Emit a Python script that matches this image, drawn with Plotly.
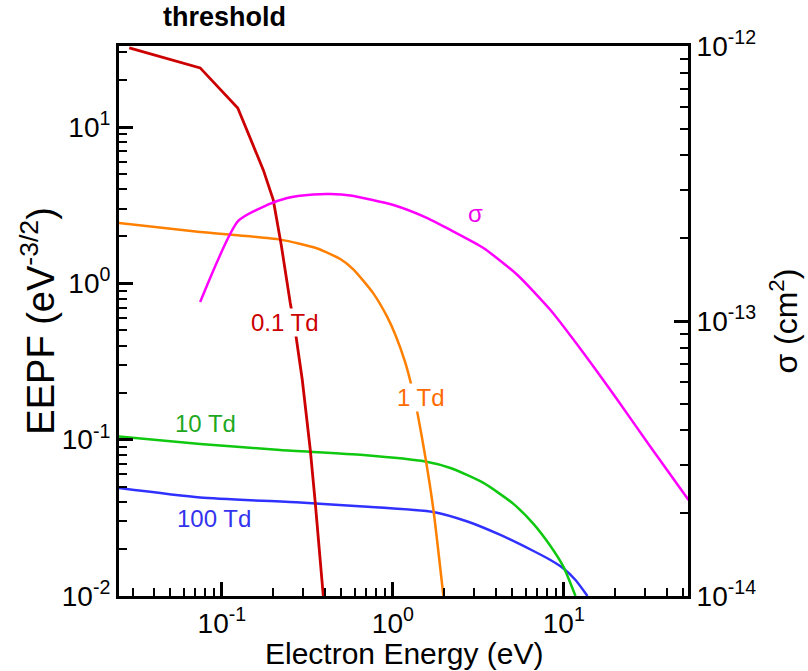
import math
import plotly.graph_objects as go

# ---------------- data ----------------
threshold_ev = 0.0746

energy_01td = [0.0287, 0.0746, 0.1238, 0.1746, 0.1997, 0.2224, 0.2511, 0.2686, 0.2953, 0.3289, 0.3517, 0.3918]
eepf_01td = [32.1, 23.9, 13.25, 5.32, 3.42, 1.76, 0.749, 0.496, 0.241, 0.0859, 0.0394, 0.0100]

energy_1td = [0.025, 0.0746, 0.2194, 0.3614, 0.4928, 0.587, 0.7687, 0.9285, 1.034, 1.184, 1.301, 1.391,
              1.55, 1.726, 1.976]
eepf_1td = [2.434, 2.132, 1.905, 1.672, 1.432, 1.229, 0.863, 0.608, 0.469, 0.3105, 0.2099, 0.1495,
            0.0773, 0.0359, 0.0100]

energy_10td = [0.025, 0.0746, 0.2194, 0.6721, 1.55, 2.171, 3.388, 5.076, 6.646, 8.357, 9.96, 11.71]
eepf_10td = [0.1048, 0.0939, 0.0859, 0.0798, 0.0725, 0.0659, 0.0529, 0.03884, 0.02893, 0.02089, 0.01537, 0.0100]

energy_100td = [0.025, 0.0746, 0.2873, 0.6721, 1.726, 2.731, 4.26, 6.646, 8.357, 9.96, 11.71, 13.76]
eepf_100td = [0.0491, 0.0427, 0.0396, 0.0374, 0.0345, 0.02997, 0.02457, 0.0194, 0.01699, 0.0150,
              0.01266, 0.0100]

energy_sigma = [0.0746, 0.1246, 0.1841, 0.2412, 0.3423, 0.4306, 0.5638, 1.0067, 1.592, 2.171, 3.388,
                5.356, 8.357, 13.04, 20.63, 32.19, 53.7]
sigma_cm2 = [1.172e-13, 2.311e-13, 2.642e-13, 2.802e-13, 2.884e-13, 2.896e-13, 2.860e-13, 2.642e-13,
             2.368e-13, 2.143e-13, 1.842e-13, 1.470e-13, 1.096e-13, 7.65e-14, 5.16e-14, 3.48e-14, 2.234e-14]

x_tickvals = [0.1, 1, 10]
x_ticktext = ["10<sup>-1</sup>", "10<sup>0</sup>", "10<sup>1</sup>"]
y_tickvals = [0.01, 0.1, 1, 10]
y_ticktext = ["10<sup>-2</sup>", "10<sup>-1</sup>", "10<sup>0</sup>", "10<sup>1</sup>"]
y2_tickvals = [1e-14, 1e-13, 1e-12]
y2_ticktext = ["10<sup>-14</sup>", "10<sup>-13</sup>", "10<sup>-12</sup>"]

x_range = [0.025, 53.3]
y_range = [0.01, 33.0]
y2_range = [1e-14, 1e-12]

labels = [
    # text, x, y, axis, colour, white box
    ("0.1 Td", 0.2348, 0.566, "y", "#cc0000", True),
    ("1 Td", 1.469, 0.185, "y", "#ff6a00", True),
    ("10 Td", 0.0798, 0.126, "y", "#1fa81f", False),
    ("100 Td", 0.0901, 0.0311, "y", "#3333ee", False),
    ("σ", 3.04, 2.47e-13, "y2", "#ee00ee", False),
]

FONT = "Arial, Liberation Sans, sans-serif"

fig = go.Figure()


def add_line(x, y, color, width, yaxis="y", shape="spline"):
    fig.add_trace(go.Scatter(x=x, y=y, mode="lines",
                             line=dict(color=color, width=width, shape=shape, smoothing=0.6),
                             yaxis=yaxis, showlegend=False, hoverinfo="skip"))


add_line(energy_sigma, sigma_cm2, "#ff00ff", 2.5, "y2")
add_line(energy_100td, eepf_100td, "#3030ff", 2.5)
add_line(energy_10td, eepf_10td, "#10c810", 2.5)
add_line(energy_1td, eepf_1td, "#ff8000", 2.5)
add_line(energy_01td, eepf_01td, "#cc0000", 2.8, shape="linear")


def minor_vals(lo_exp, hi_exp):
    return [m * 10 ** e for e in range(lo_exp, hi_exp) for m in range(2, 10)]


axis_common = dict(type="log", showgrid=False, zeroline=False, showline=True, linecolor="black",
                   linewidth=3, ticks="inside", ticklen=14, tickwidth=3, tickcolor="black",
                   tickfont=dict(family=FONT, size=28, color="black"))

fig.update_layout(
    width=808, height=671,
    margin=dict(l=119, r=120, t=46, b=75, pad=0),
    paper_bgcolor="white", plot_bgcolor="white",
    font=dict(family=FONT, color="black"),
    xaxis=dict(**axis_common, range=[math.log10(v) for v in x_range], mirror=True,
               tickmode="array", tickvals=x_tickvals, ticktext=x_ticktext,
               minor=dict(tickvals=minor_vals(-2, 2), ticks="inside", ticklen=8, tickwidth=1.5,
                          tickcolor="black", showgrid=False)),
    yaxis=dict(**axis_common, range=[math.log10(v) for v in y_range],
               tickmode="array", tickvals=y_tickvals, ticktext=y_ticktext,
               minor=dict(tickvals=minor_vals(-2, 2), ticks="inside", ticklen=8, tickwidth=1.5,
                          tickcolor="black", showgrid=False)),
    yaxis2=dict(**axis_common, range=[math.log10(v) for v in y2_range], overlaying="y", side="right",
                tickmode="array", tickvals=y2_tickvals, ticktext=y2_ticktext,
                minor=dict(tickvals=minor_vals(-14, -12), ticks="inside", ticklen=8, tickwidth=1.5,
                           tickcolor="black", showgrid=False)),
)

# threshold line
fig.add_shape(type="line", xref="x", yref="paper",
              x0=math.log10(threshold_ev), x1=math.log10(threshold_ev), y0=0, y1=1.012,
              line=dict(color="#c4c4c4", width=1), layer="below")

fig.add_annotation(text="<b>threshold</b>", xref="x", yref="paper", x=math.log10(threshold_ev),
                   xshift=24, y=1.0527, xanchor="center", yanchor="middle", showarrow=False,
                   font=dict(family=FONT, size=27, color="black"))

for text, lx, ly, ax, col, box in labels:
    fig.add_annotation(text=text, xref="x", yref=ax, x=math.log10(lx), y=math.log10(ly),
                       showarrow=False, xanchor="center", yanchor="middle",
                       bgcolor="white" if box else "rgba(0,0,0,0)", borderpad=0,
                       font=dict(family=FONT, size=24, color=col))

# axis titles
fig.add_annotation(text="Electron Energy (eV)", xref="paper", yref="paper", x=0.5, y=-0.104,
                   xanchor="center", yanchor="middle", showarrow=False,
                   font=dict(family=FONT, size=30, color="black"))
fig.add_annotation(text="EEPF (eV<sup>-3/2</sup>)", xref="paper", yref="paper", x=-0.143, y=0.5,
                   xanchor="center", yanchor="middle", textangle=-90, showarrow=False,
                   font=dict(family=FONT, size=38, color="black"))
fig.add_annotation(text="σ (cm<sup>2</sup>)", xref="paper", yref="paper", x=1.168, y=0.5,
                   xanchor="center", yanchor="middle", textangle=-90, showarrow=False,
                   font=dict(family=FONT, size=32, color="black"))

fig.write_html("out.html")
